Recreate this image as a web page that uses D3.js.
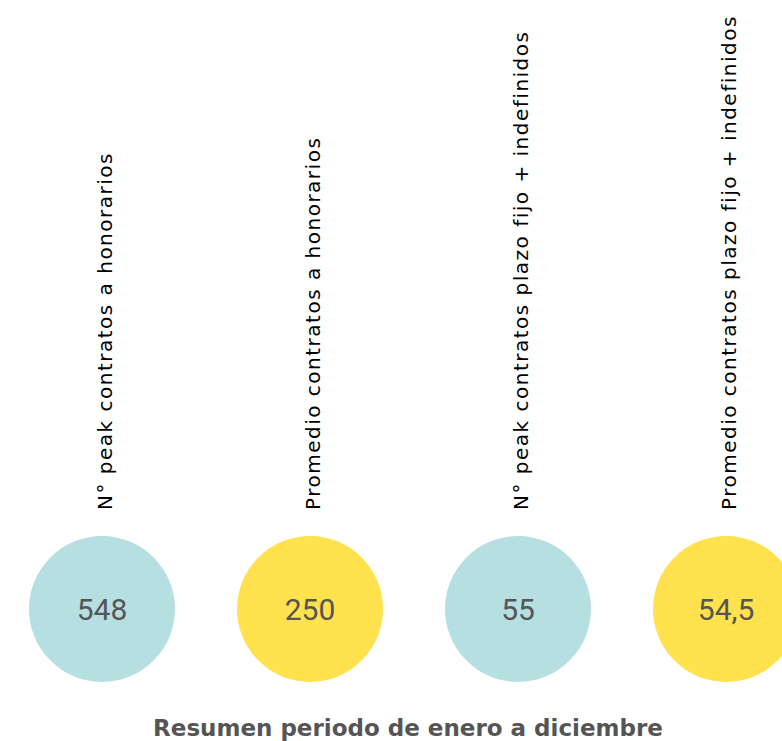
<!DOCTYPE html>
<html>
<head>
<meta charset="utf-8">
<script src="https://cdn.jsdelivr.net/npm/d3@7"></script>
<style>
  html, body { margin: 0; padding: 0; background: #fff; }
  svg { display: block; }
</style>
</head>
<body>
<svg id="chart" width="782" height="741"></svg>
<script>
const categories = [
  "N° peak contratos a honorarios",
  "Promedio contratos a honorarios",
  "N° peak contratos plazo fijo + indefinidos",
  "Promedio contratos plazo fijo + indefinidos"
];
const values = ["548", "250", "55", "54,5"];
const colors = ["#b6dfe1", "#ffe24d", "#b6dfe1", "#ffe24d"];
const title = "Resumen periodo de enero a diciembre";

const data = categories.map((c, i) => ({ label: c, value: values[i], color: colors[i] }));

const svg = d3.select("#chart");
const x = d3.scalePoint().domain(categories).range([102, 726]);
const cy = 609, r = 73;

const g = svg.selectAll("g.item").data(data).join("g")
  .attr("class", "item")
  .attr("transform", d => `translate(${x(d.label)},0)`);

g.append("circle")
  .attr("cx", 0).attr("cy", cy).attr("r", r)
  .attr("fill", d => d.color);

g.append("text")
  .attr("x", 0).attr("y", cy + 11)
  .attr("text-anchor", "middle")
  .attr("font-family", "Roboto, 'Open Sans', sans-serif")
  .attr("font-size", 30)
  .attr("fill", "#555")
  .text(d => d.value);

g.append("text")
  .attr("transform", "translate(10,510) rotate(-90)")
  .attr("text-anchor", "start")
  .attr("font-family", "'DejaVu Sans', sans-serif")
  .attr("font-size", 20)
  .attr("letter-spacing", 1.5)
  .attr("fill", "#000")
  .text(d => d.label);

svg.append("text")
  .attr("x", 408).attr("y", 736)
  .attr("text-anchor", "middle")
  .attr("font-family", "'DejaVu Sans', sans-serif")
  .attr("font-weight", 700)
  .attr("font-size", 23)
  .attr("fill", "#555")
  .text(title);
</script>
</body>
</html>
